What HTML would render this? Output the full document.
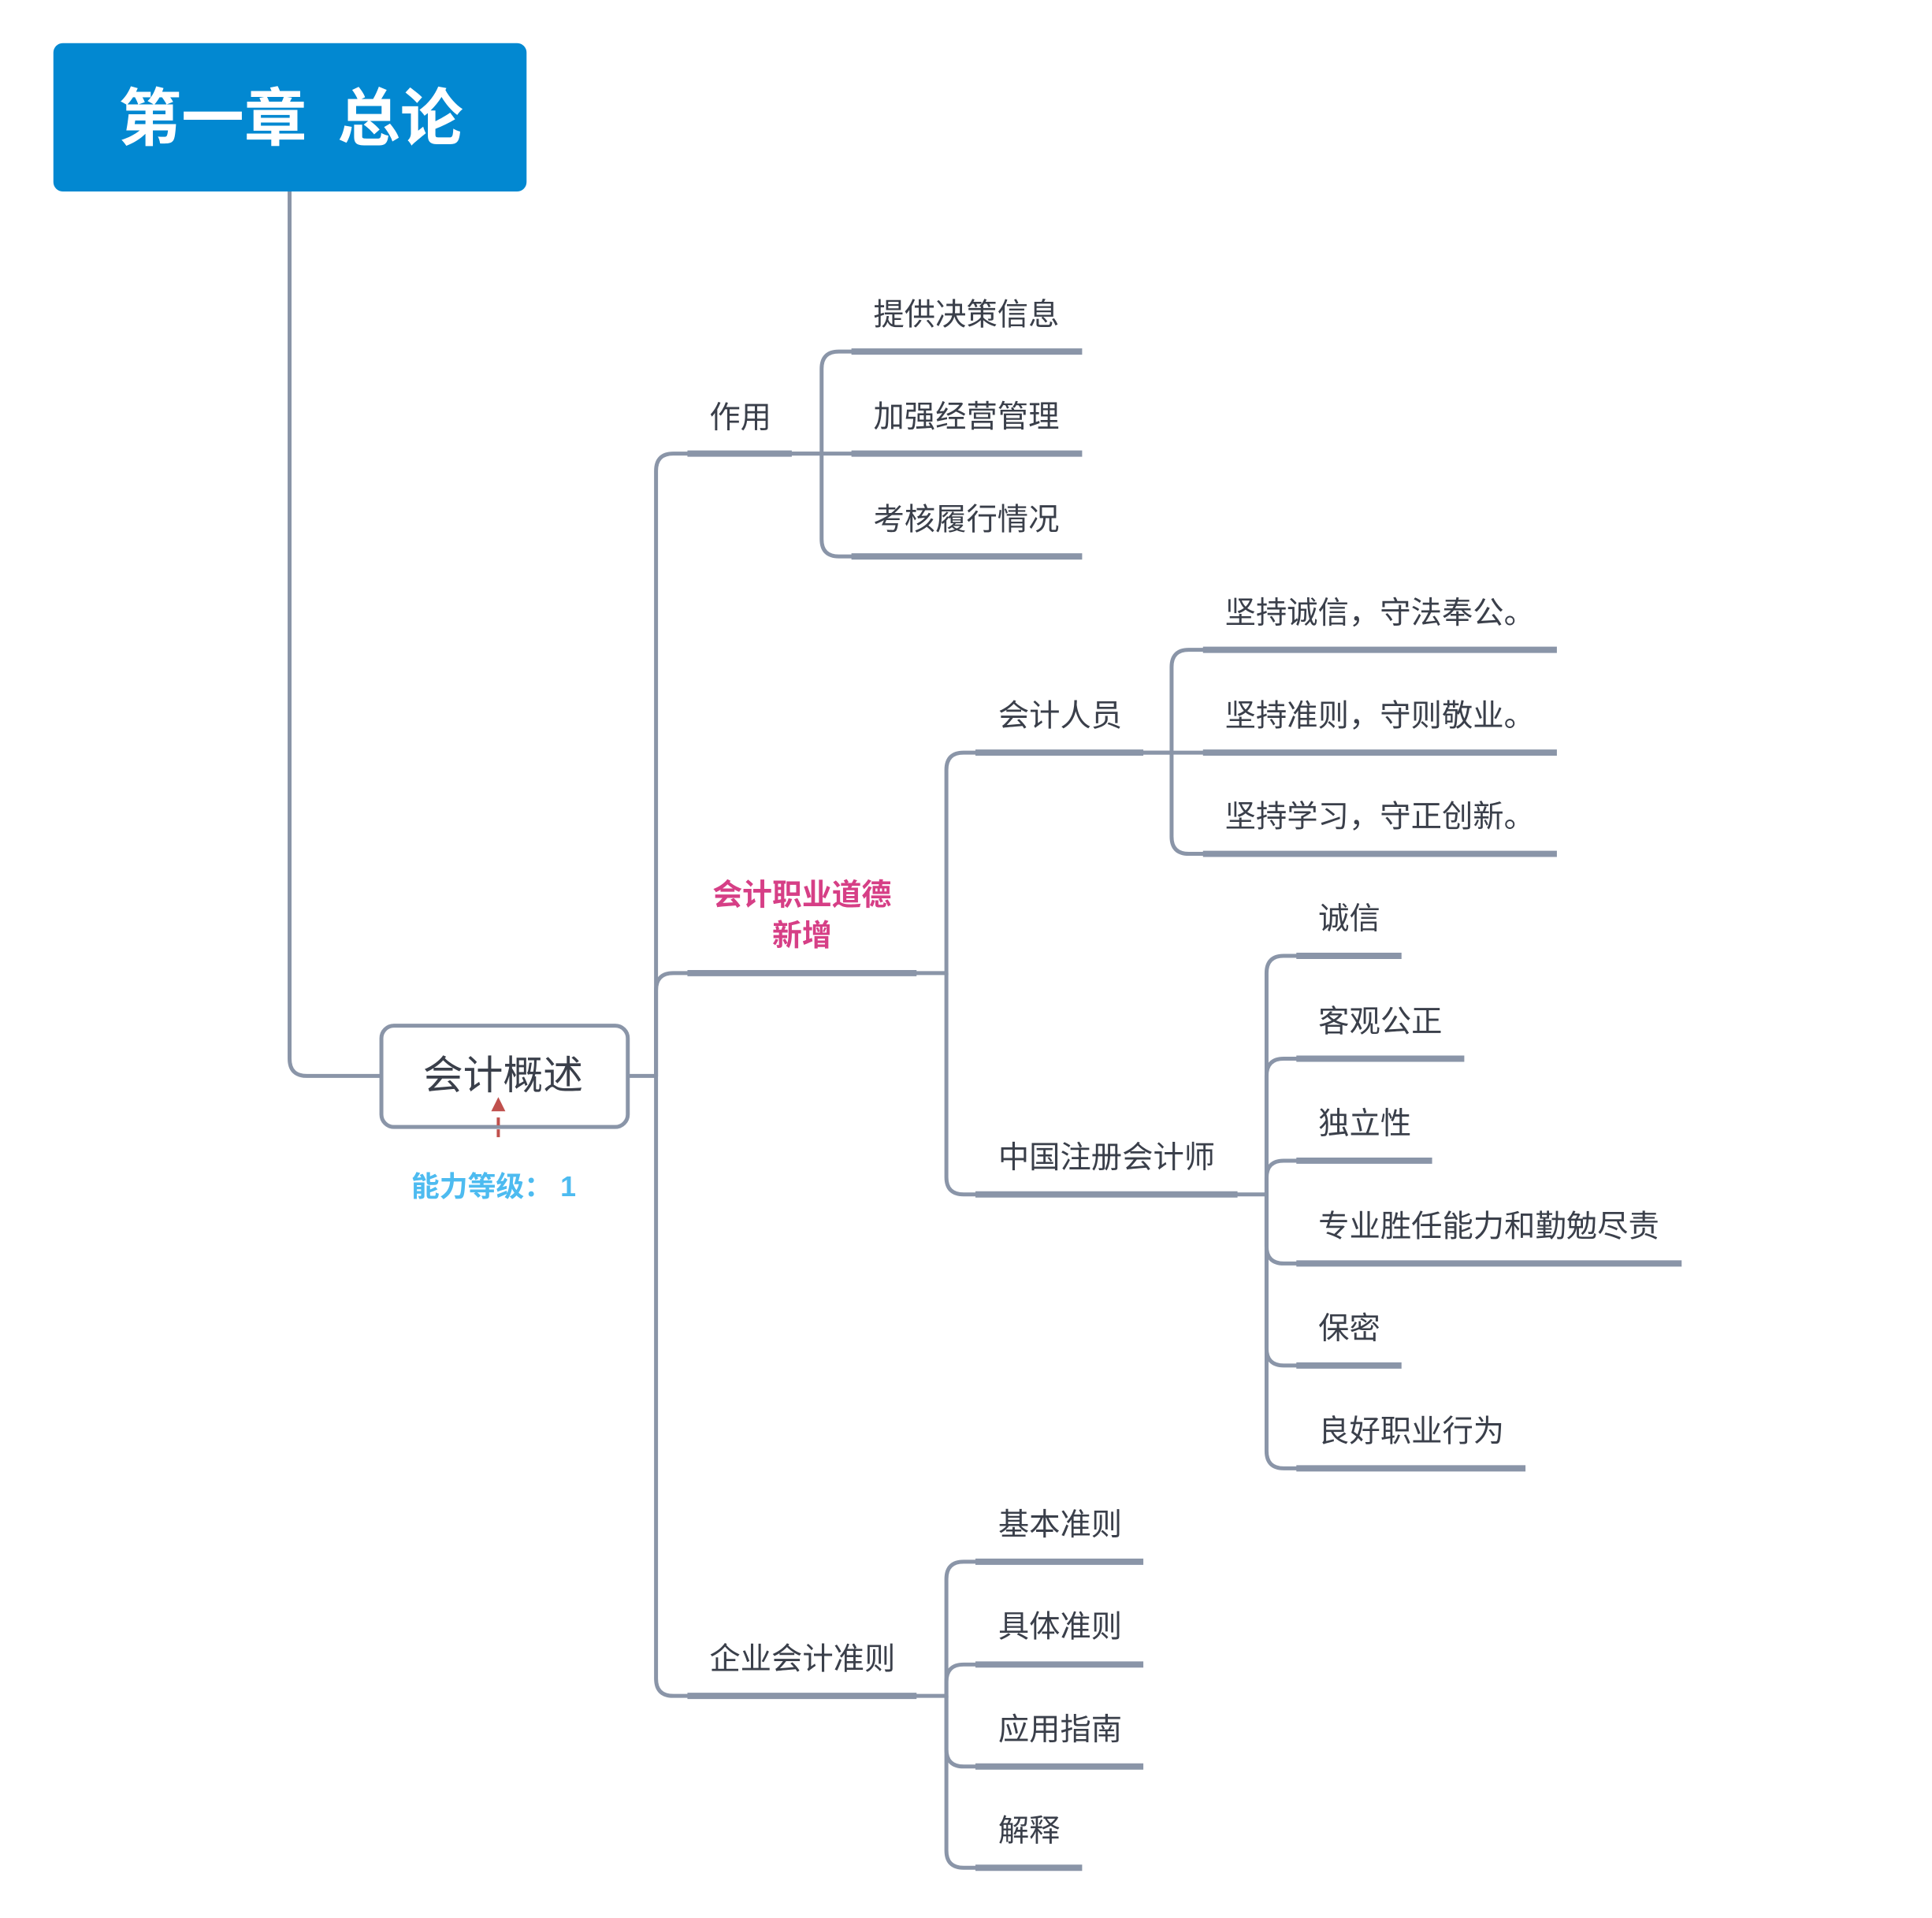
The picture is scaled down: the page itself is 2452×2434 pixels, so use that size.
<!DOCTYPE html>
<html><head><meta charset="utf-8"><style>
html,body{margin:0;padding:0;background:#fff;}
svg{display:block;}
text{font-family:"Liberation Sans","Noto Sans CJK SC",sans-serif;fill:#3a3f4a;font-size:39.5px;dominant-baseline:central;}
</style></head><body>
<svg width="2452" height="2434" viewBox="0 0 2462 2444" xmlns="http://www.w3.org/2000/svg">
<g fill="none" stroke="#8a95a8" stroke-width="5" stroke-linecap="round">
<path d="M369,244 V1349 Q369,1371 391,1371 H484"/>
<path d="M802,1371 H836"/>
<path d="M836,1371 V600 Q836,578 858,578 H876"/>
<path d="M836,1371 V1262 Q836,1240 858,1240 H876"/>
<path d="M836,1371 V2139 Q836,2161 858,2161 H876"/>
<path d="M1009,578 H1047 V470 Q1047,448 1069,448 H1085"/>
<path d="M1009,578 H1085"/>
<path d="M1047,578 V687 Q1047,709 1069,709 H1085"/>
<path d="M1168,1240 H1206 V981 Q1206,959 1228,959 H1243"/>
<path d="M1206,1240 V1500 Q1206,1522 1228,1522 H1243"/>
<path d="M1457,959 H1493 V850 Q1493,828 1515,828 H1533"/>
<path d="M1457,959 H1533"/>
<path d="M1493,959 V1066 Q1493,1088 1515,1088 H1533"/>
<path d="M1577,1522 H1614 V1240 Q1614,1218 1636,1218 H1652"/>
<path d="M1614,1522 V1371 Q1614,1349 1636,1349 H1652"/>
<path d="M1614,1522 V1501 Q1614,1479 1636,1479 H1652"/>
<path d="M1614,1522 V1588 Q1614,1610 1636,1610 H1652"/>
<path d="M1614,1522 V1718 Q1614,1740 1636,1740 H1652"/>
<path d="M1614,1522 V1849 Q1614,1871 1636,1871 H1652"/>
<path d="M1168,2161 H1206 V2012 Q1206,1990 1228,1990 H1243"/>
<path d="M1206,2161 V2143 Q1206,2121 1228,2121 H1243"/>
<path d="M1206,2161 V2229 Q1206,2251 1228,2251 H1243"/>
<path d="M1206,2161 V2358 Q1206,2380 1228,2380 H1243"/>
</g>
<g stroke="#8a95a8" stroke-width="8">
<line x1="876" y1="578" x2="1009" y2="578"/>
<line x1="876" y1="1240" x2="1168" y2="1240"/>
<line x1="876" y1="2161" x2="1168" y2="2161"/>
<line x1="1085" y1="448" x2="1379" y2="448"/>
<line x1="1085" y1="578" x2="1379" y2="578"/>
<line x1="1085" y1="709" x2="1379" y2="709"/>
<line x1="1243" y1="959" x2="1457" y2="959"/>
<line x1="1243" y1="1522" x2="1577" y2="1522"/>
<line x1="1533" y1="828" x2="1984" y2="828"/>
<line x1="1533" y1="959" x2="1984" y2="959"/>
<line x1="1533" y1="1088" x2="1984" y2="1088"/>
<line x1="1652" y1="1218" x2="1786" y2="1218"/>
<line x1="1652" y1="1349" x2="1866" y2="1349"/>
<line x1="1652" y1="1479" x2="1825" y2="1479"/>
<line x1="1652" y1="1610" x2="2143" y2="1610"/>
<line x1="1652" y1="1740" x2="1786" y2="1740"/>
<line x1="1652" y1="1871" x2="1944" y2="1871"/>
<line x1="1243" y1="1990" x2="1457" y2="1990"/>
<line x1="1243" y1="2121" x2="1457" y2="2121"/>
<line x1="1243" y1="2251" x2="1457" y2="2251"/>
<line x1="1243" y1="2380" x2="1379" y2="2380"/>
</g>
<rect x="68" y="55" width="603" height="189" rx="12" fill="#0288d1"/>
<text x="271" y="151" text-anchor="middle" style="font-size:80px;font-weight:bold;fill:#fff">第一章</text>
<text x="510" y="151" text-anchor="middle" style="font-size:80px;font-weight:bold;fill:#fff">总论</text>
<rect x="486" y="1307" width="314" height="129" rx="16" fill="#fff" stroke="#8a95a8" stroke-width="5"/>
<text x="641" y="1370" text-anchor="middle" style="font-size:51px">会计概述</text>
<polygon points="635,1398 626,1416 644,1416" fill="#c0504d"/>
<line x1="635" y1="1424" x2="635" y2="1452" stroke="#c0504d" stroke-width="4" stroke-dasharray="10,5"/>
<text x="629" y="1512" text-anchor="middle" style="font-size:36px;font-weight:bold;fill:#4dbbf0">能力等级： 1</text>
<text x="904" y="532">作用</text>
<text x="1022" y="1141" text-anchor="middle" style="font-weight:bold;fill:#d63f86;font-size:38px">会计职业道德</text>
<text x="1022" y="1193" text-anchor="middle" style="font-weight:bold;fill:#d63f86;font-size:38px">新增</text>
<text x="904" y="2114">企业会计准则</text>
<text x="1113" y="401">提供决策信息</text>
<text x="1113" y="531">加强经营管理</text>
<text x="1113" y="662">考核履行情况</text>
<text x="1272" y="912">会计人员</text>
<text x="1272" y="1475">中国注册会计师</text>
<text x="1561" y="781">坚持诚信，守法奉公。</text>
<text x="1561" y="912">坚持准则，守则敬业。</text>
<text x="1561" y="1041">坚持学习，守正创新。</text>
<text x="1680" y="1171">诚信</text>
<text x="1680" y="1302">客观公正</text>
<text x="1680" y="1432">独立性</text>
<text x="1680" y="1563">专业胜任能力和勤勉尽责</text>
<text x="1680" y="1693">保密</text>
<text x="1680" y="1824">良好职业行为</text>
<text x="1272" y="1943">基本准则</text>
<text x="1272" y="2073">具体准则</text>
<text x="1272" y="2204">应用指南</text>
<text x="1272" y="2333">解释</text>
</svg>
</body></html>
